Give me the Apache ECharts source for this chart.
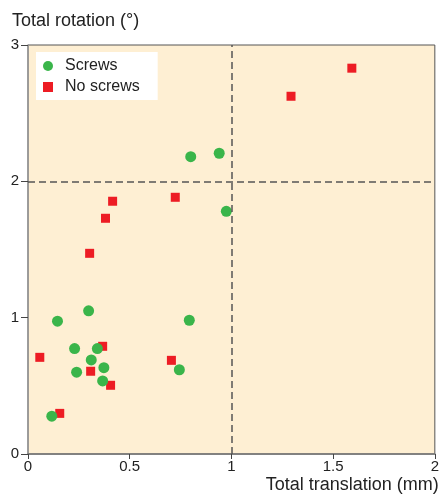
<!DOCTYPE html>
<html>
<head>
<meta charset="utf-8">
<script src="https://cdn.jsdelivr.net/npm/echarts@6/dist/echarts.min.js"></script>
<style>
html,body{margin:0;padding:0;background:#fff;}
#c{width:442px;height:499px;}
</style>
</head>
<body>
<div id="c"></div>
<script>
var xTicks = [0, 0.5, 1, 1.5, 2];
var yTicks = [0, 1, 2, 3];
var screwsX = [0.117, 0.145, 0.298, 0.229, 0.239, 0.311, 0.341, 0.373, 0.367, 0.744, 0.793, 0.800, 0.940, 0.975];
var screwsY = [0.277, 0.974, 1.050, 0.773, 0.600, 0.690, 0.773, 0.633, 0.536, 0.618, 0.981, 2.181, 2.206, 1.780];
var noScrewsX = [0.058, 0.156, 0.308, 0.367, 0.406, 0.705, 0.303, 0.381, 0.416, 0.724, 1.293, 1.592];
var noScrewsY = [0.709, 0.298, 0.607, 0.790, 0.504, 0.687, 1.472, 1.729, 1.854, 1.883, 2.624, 2.830];
var refX = 1, refY = 2;

function pairs(xs, ys){ return xs.map(function(x,i){ return [x, ys[i]]; }); }

var FONT = '"Liberation Sans", Arial, Helvetica, sans-serif';
var chart = echarts.init(document.getElementById('c'), null, {renderer:'canvas'});
chart.setOption({
  animation: false,
  textStyle: {fontFamily: FONT},
  title: {
    text: 'Total rotation (°)',
    left: 12, top: 12, padding: 0,
    textStyle: {fontSize: 18, fontWeight: 'normal', color: '#222', fontFamily: FONT}
  },
  legend: {
    data: [{name:'Screws', icon:'circle'}, {name:'No screws', icon:'path://M0,0H1V1H0Z'}],
    orient: 'vertical',
    left: 36, top: 52,
    padding: [6, 18, 5, 7],
    itemWidth: 24, itemHeight: 10, itemGap: 5,
    symbolKeepAspect: true,
    backgroundColor: '#ffffff',
    textStyle: {fontSize: 16, color: '#222', fontFamily: FONT}
  },
  grid: {
    left: 28, right: 5, top: 45, bottom: 45,
    show: true, backgroundColor: '#feefd3', borderColor: '#555', borderWidth: 1
  },
  xAxis: {
    type: 'value', min: xTicks[0], max: xTicks[xTicks.length-1], interval: 0.5,
    name: 'Total translation (mm)', nameLocation: 'end', nameGap: 4,
    nameTextStyle: {fontSize: 18, color: '#222', align: 'right', verticalAlign: 'top', padding: [22,0,0,0], fontFamily: FONT},
    axisLine: {show: true, lineStyle: {color: '#777', width: 1.5}},
    axisTick: {show: true, length: 5, lineStyle: {color: '#444'}},
    axisLabel: {fontSize: 15, color: '#222', margin: 5, fontFamily: FONT},
    splitLine: {show: false}
  },
  yAxis: {
    type: 'value', min: yTicks[0], max: yTicks[yTicks.length-1], interval: 1,
    axisLine: {show: true, lineStyle: {color: '#999', width: 1.5}},
    axisTick: {show: true, length: 7, lineStyle: {color: '#444'}},
    axisLabel: {fontSize: 15, color: '#222', margin: 9, fontFamily: FONT},
    splitLine: {show: false}
  },
  series: [
    {
      name: 'No screws', type: 'scatter', symbol: 'rect', symbolSize: 9, z: 2,
      itemStyle: {color: '#ed1c24', opacity: 1},
      data: pairs(noScrewsX, noScrewsY)
    },
    {
      name: 'Screws', type: 'scatter', symbol: 'circle', symbolSize: 11, z: 3,
      itemStyle: {color: '#3ab54a', opacity: 1},
      data: pairs(screwsX, screwsY),
      markLine: {
        silent: true, symbol: ['none','none'], label: {show: false},
        lineStyle: {type: [7,4], color: '#555', width: 1.5},
        data: [{xAxis: refX}, {yAxis: refY}]
      }
    }
  ]
});
</script>
</body>
</html>
